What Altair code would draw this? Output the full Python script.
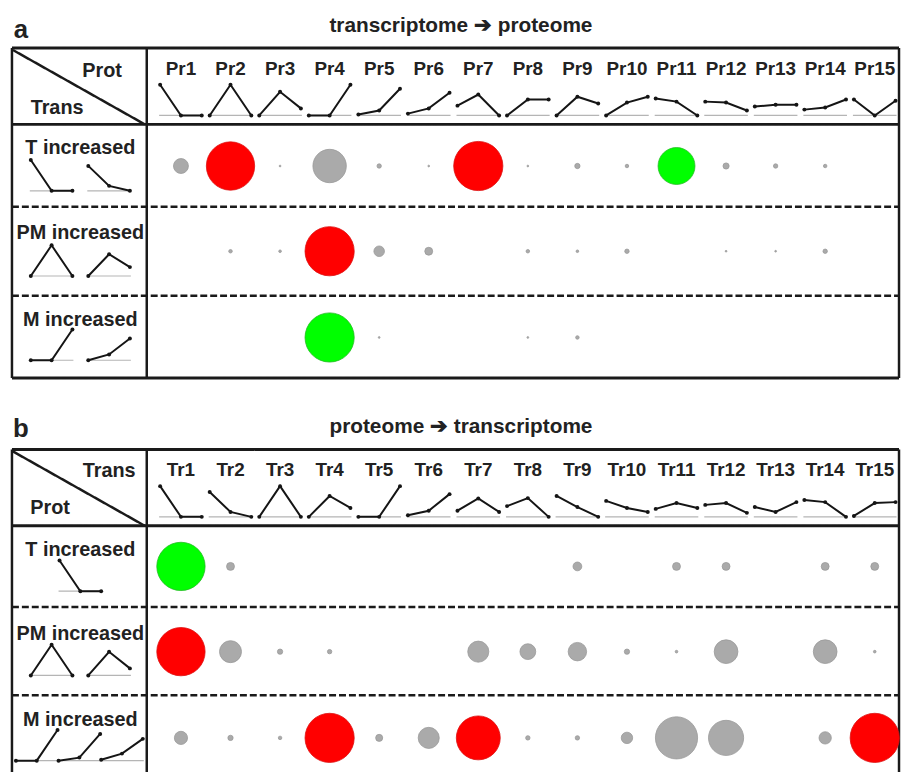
import math
import altair as alt
import pandas as pd

# ---------------- data ----------------
PR_LABELS = [f"Pr{i}" for i in range(1, 16)]
TR_LABELS = [f"Tr{i}" for i in range(1, 16)]
ROW_LABELS = ["T increased", "PM increased", "M increased"]
TITLE_A = "transcriptome \u2794 proteome"
TITLE_B = "proteome \u2794 transcriptome"
CORNER_A = ["Prot", "Trans"]
CORNER_B = ["Trans", "Prot"]

# cluster profiles (relative level at T, PM, M)
PR_PROFILES = [
    [1, 0, 0], [0, 1, 0], [0, 0.77, 0.23], [0, 0, 1], [0.03, 0.16, 0.87],
    [0.06, 0.23, 0.74], [0.32, 0.68, 0], [0, 0.52, 0.52], [0, 0.61, 0.39],
    [0, 0.42, 0.61], [0.55, 0.45, 0], [0.45, 0.42, 0.16], [0.29, 0.35, 0.35],
    [0.19, 0.26, 0.52], [0.52, 0, 0.48],
]
TR_PROFILES = [
    [1, 0, 0], [0.81, 0.16, 0], [0, 1, 0], [0, 0.68, 0.29], [0, 0, 1],
    [0.05, 0.2, 0.74], [0.2, 0.6, 0.16], [0.35, 0.61, 0], [0.68, 0.32, 0],
    [0.52, 0.29, 0.16], [0.26, 0.45, 0.29], [0.39, 0.45, 0.13],
    [0.32, 0.16, 0.48], [0.55, 0.48, 0], [0.03, 0.45, 0.48],
]
A_ICONS = [
    [[1, 0, 0], [0.81, 0.16, 0]],
    [[0, 1, 0], [0, 0.71, 0.29]],
    [[0, 0, 1], [0, 0.19, 0.71]],
]
B_ICONS = [
    [[1, 0, 0]],
    [[0, 1, 0], [0, 0.77, 0.23]],
    [[0, 0, 1], [0, 0.1, 0.87], [0.03, 0.23, 0.71]],
]

# bubble diameters per row (T, PM, M increased)
A_T_DIAM = [17, 55, 2, 38, 5, 2, 56, 2, 6, 4, 42, 7, 5, 4, 0]
A_PM_DIAM = [0, 4, 3, 56, 12, 9, 0, 4, 3, 5, 0, 2, 2, 5, 0]
A_M_DIAM = [0, 0, 0, 56, 2, 0, 0, 2, 4, 0, 0, 0, 0, 0, 0]
B_T_DIAM = [55, 9, 0, 0, 0, 0, 0, 0, 10, 0, 9, 9, 0, 9, 9]
B_PM_DIAM = [55, 25, 6, 5, 0, 0, 24, 18, 21, 6, 3, 27, 0, 27, 3]
B_M_DIAM = [15, 6, 4, 56, 8, 24, 50, 5, 5, 13, 48, 40, 0, 14, 56]

# class: n = not significant, up = red, down = green
A_T_CLASS = ["n", "up", "n", "n", "n", "n", "up", "n", "n", "n", "down", "n", "n", "n", "n"]
A_PM_CLASS = ["n", "n", "n", "up", "n", "n", "n", "n", "n", "n", "n", "n", "n", "n", "n"]
A_M_CLASS = ["n", "n", "n", "down", "n", "n", "n", "n", "n", "n", "n", "n", "n", "n", "n"]
B_T_CLASS = ["down", "n", "n", "n", "n", "n", "n", "n", "n", "n", "n", "n", "n", "n", "n"]
B_PM_CLASS = ["up", "n", "n", "n", "n", "n", "n", "n", "n", "n", "n", "n", "n", "n", "n"]
B_M_CLASS = ["n", "n", "n", "up", "n", "n", "up", "n", "n", "n", "n", "n", "n", "n", "up"]

# ---------------- layout ----------------
COL_X0, COL_DX = 132.5, 50
PROF_DX, PROF_H, BASE_HALF = 21, 31, 22
LEFT, DIV, RIGHT = 12, 148, 907
LABEL_X = 81

PANELS = [
    dict(letter="a", title=TITLE_A, title_y=29, letter_y=35, top=45, head_bot=122,
         rows=[122, 205, 295, 378], has_bottom=True, col_label_y=72, prof_base=113,
         labels=PR_LABELS, profiles=PR_PROFILES,
         corner=[(CORNER_A[0], 103, 74), (CORNER_A[1], 57.5, 112)],
         row_label_y=[152, 238, 325], icon_base=[189, 275, 360],
         icon_x=[[52, 110], [52, 110], [52, 110]], icons=A_ICONS,
         row_y=[164, 250, 337],
         diam=[A_T_DIAM, A_PM_DIAM, A_M_DIAM], cls=[A_T_CLASS, A_PM_CLASS, A_M_CLASS]),
    dict(letter="b", title=TITLE_B, title_y=433, letter_y=437, top=450, head_bot=527,
         rows=[527, 609, 698, 800], has_bottom=False, col_label_y=477, prof_base=518,
         labels=TR_LABELS, profiles=TR_PROFILES,
         corner=[(CORNER_B[0], 110, 478), (CORNER_B[1], 50.5, 515)],
         row_label_y=[557, 642, 729], icon_base=[593, 678, 764],
         icon_x=[[81], [52, 110], [37, 80, 123]], icons=B_ICONS,
         row_y=[568, 654, 741],
         diam=[B_T_DIAM, B_PM_DIAM, B_M_DIAM], cls=[B_T_CLASS, B_PM_CLASS, B_M_CLASS]),
]

texts, rules, bases, pts, bubbles = [], [], [], [], []


def add_profile(gid, cx, base, vals):
    bases.append(dict(x=cx - BASE_HALF, x2=cx + BASE_HALF, y=base, y2=base))
    for k, v in enumerate(vals):
        pts.append(dict(gid=gid, k=k, x=cx + (k - 1) * PROF_DX, y=base - v * PROF_H))


for P in PANELS:
    texts.append(dict(t=P["letter"], x=21, y=P["letter_y"], fs=26))
    texts.append(dict(t=P["title"], x=465, y=P["title_y"], fs=21))
    for txt, cx, cy in P["corner"]:
        texts.append(dict(t=txt, x=cx, y=cy, fs=20))
    for i, lab in enumerate(P["labels"]):
        cx = COL_X0 + COL_DX * (i + 1)
        texts.append(dict(t=lab, x=cx, y=P["col_label_y"], fs=19))
        add_profile(f"{P['letter']}h{i}", cx, P["prof_base"], P["profiles"][i])
    for r, lab in enumerate(ROW_LABELS):
        texts.append(dict(t=lab, x=LABEL_X, y=P["row_label_y"][r], fs=20))
        for j, vals in enumerate(P["icons"][r]):
            add_profile(f"{P['letter']}r{r}i{j}", P["icon_x"][r][j], P["icon_base"][r], vals)
        for i, d in enumerate(P["diam"][r]):
            if d > 0:
                bubbles.append(dict(x=COL_X0 + COL_DX * (i + 1), y=P["row_y"][r],
                                    area=math.pi * d * d / 4, cls=P["cls"][r][i]))
    top, hb = P["top"], P["head_bot"]
    bot = P["rows"][-1]
    rules += [
        dict(x=LEFT, x2=RIGHT, y=top, y2=top, w=3, s="solid"),
        dict(x=LEFT, x2=RIGHT, y=hb, y2=hb, w=3, s="solid"),
        dict(x=LEFT, x2=LEFT, y=top, y2=bot, w=2.5, s="solid"),
        dict(x=DIV, x2=DIV, y=top, y2=bot, w=2.5, s="solid"),
        dict(x=RIGHT, x2=RIGHT, y=top, y2=bot, w=2.5, s="solid"),
        dict(x=LEFT + 1, x2=DIV - 2, y=top + 2, y2=hb, w=2.5, s="solid"),
        dict(x=LEFT, x2=RIGHT, y=P["rows"][1], y2=P["rows"][1], w=2.5, s="dash"),
        dict(x=LEFT, x2=RIGHT, y=P["rows"][2], y2=P["rows"][2], w=2.5, s="dash"),
    ]
    if P["has_bottom"]:
        rules.append(dict(x=LEFT, x2=RIGHT, y=bot, y2=bot, w=3, s="solid"))

df_text = pd.DataFrame(texts)
df_rules = pd.DataFrame(rules)
df_bases = pd.DataFrame(bases)
df_pts = pd.DataFrame(pts)
df_bub = pd.DataFrame(bubbles)

XS = alt.Scale(domain=[8, 909], nice=False, zero=False)
YS = alt.Scale(domain=[8, 772], nice=False, zero=False, reverse=True)
X = alt.X("x:Q", scale=XS, axis=None)
Y = alt.Y("y:Q", scale=YS, axis=None)

rule_layer = alt.Chart(df_rules).mark_rule(color="#1a1a1a").encode(
    x=X, y=Y, x2="x2:Q", y2="y2:Q",
    strokeWidth=alt.StrokeWidth("w:Q", scale=None, legend=None),
    strokeDash=alt.StrokeDash("s:N", scale=alt.Scale(domain=["solid", "dash"],
                                                      range=[[1, 0], [7, 3]]), legend=None),
)

base_layer = alt.Chart(df_bases).mark_rule(color="#b5b5b5", strokeWidth=1.2).encode(
    x=X, y=Y, x2="x2:Q", y2="y2:Q")

line_layer = alt.Chart(df_pts).mark_line(color="#151515", strokeWidth=2).encode(
    x=X, y=Y, detail="gid:N", order="k:Q")
pt_layer = alt.Chart(df_pts).mark_circle(color="#151515", size=16, opacity=1).encode(
    x=X, y=Y)

bub_layer = alt.Chart(df_bub).mark_circle(opacity=1, strokeWidth=0.8).encode(
    x=X, y=Y,
    size=alt.Size("area:Q", scale=alt.Scale(type="linear", domain=[0, 2500], range=[0, 2500]),
                  legend=None),
    fill=alt.Fill("cls:N", scale=alt.Scale(domain=["n", "up", "down"],
                                           range=["#aaaaaa", "#ff0000", "#00ff00"]), legend=None),
    stroke=alt.Stroke("cls:N", scale=alt.Scale(domain=["n", "up", "down"],
                                               range=["#999999", "#dd1111", "#22bb22"]), legend=None),
)

text_layer = alt.Chart(df_text).mark_text(
    font="Liberation Sans, Arial, sans-serif", fontWeight="bold", color="#222222",
    align="center", baseline="alphabetic").encode(
    x=X, y=Y, text="t:N", size=alt.Size("fs:Q", scale=None, legend=None))

chart = alt.layer(rule_layer, base_layer, line_layer, pt_layer, bub_layer, text_layer).properties(
    width=901, height=764, padding=0, autosize=alt.AutoSizeParams(type="none")
).configure_view(stroke=None).resolve_scale(size="independent")

chart.save("out.html", embed_options={"renderer": "svg", "actions": False})
